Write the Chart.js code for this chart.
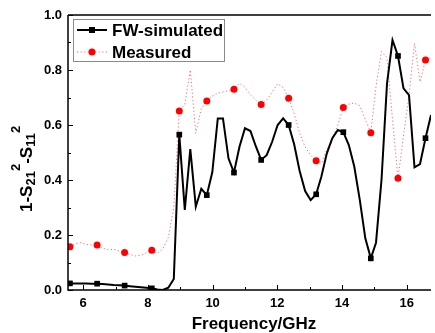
<!DOCTYPE html>
<html>
<head>
<meta charset="utf-8">
<script src="https://cdn.jsdelivr.net/npm/chart.js@4.4.0/dist/chart.umd.min.js"></script>
<style>
  html, body { margin: 0; padding: 0; background: #fff; }
  canvas { display: block; }
</style>
</head>
<body>
<canvas id="myChart" width="435" height="333"></canvas>
<script>
// frequency points (GHz)
const freq = [5.59, 5.76, 5.93, 6.10, 6.26, 6.43, 6.60, 6.77, 6.94, 7.11,
  7.28, 7.44, 7.61, 7.78, 7.95, 8.12, 8.29, 8.46, 8.63, 8.80,
  8.97, 9.14, 9.31, 9.48, 9.65, 9.82, 9.99, 10.16, 10.32, 10.49,
  10.66, 10.83, 11.00, 11.17, 11.34, 11.50, 11.67, 11.84, 12.01, 12.18,
  12.35, 12.52, 12.69, 12.86, 13.03, 13.20, 13.36, 13.53, 13.70, 13.87,
  14.04, 14.21, 14.38, 14.55, 14.72, 14.89, 15.05, 15.22, 15.39, 15.56,
  15.73, 15.90, 16.07, 16.24, 16.41, 16.58, 16.75];

const fwSim = [0.024, 0.024, 0.024, 0.024, 0.023, 0.023, 0.022, 0.020, 0.018, 0.017,
  0.016, 0.014, 0.012, 0.010, 0.008, 0.006, 0.002, 0.000, 0.008, 0.040,
  0.565, 0.291, 0.512, 0.303, 0.368, 0.345, 0.428, 0.624, 0.624, 0.479,
  0.427, 0.521, 0.588, 0.578, 0.521, 0.473, 0.490, 0.539, 0.600, 0.624,
  0.600, 0.530, 0.433, 0.360, 0.327, 0.348, 0.412, 0.497, 0.552, 0.582,
  0.574, 0.527, 0.448, 0.327, 0.188, 0.115, 0.172, 0.400, 0.750, 0.909,
  0.851, 0.733, 0.709, 0.446, 0.458, 0.552, 0.636];

const measured = [0.157, 0.168, 0.172, 0.165, 0.164, 0.164, 0.152, 0.146, 0.148, 0.142,
  0.136, 0.130, 0.124, 0.126, 0.135, 0.145, 0.133, 0.150, 0.190, 0.300,
  0.651, 0.675, 0.800, 0.570, 0.660, 0.687, 0.705, 0.715, 0.720, 0.725,
  0.730, 0.752, 0.737, 0.710, 0.690, 0.675, 0.690, 0.720, 0.750, 0.737,
  0.697, 0.643, 0.570, 0.520, 0.490, 0.470, 0.460, 0.510, 0.550, 0.600,
  0.664, 0.676, 0.680, 0.670, 0.620, 0.572, 0.740, 0.867, 0.845, 0.620,
  0.406, 0.560, 0.709, 0.897, 0.757, 0.836, 0.846];

const xTicks = [6, 8, 10, 12, 14, 16];
const xMinor = [7, 9, 11, 13, 15];
const yTicks = [0, 0.2, 0.4, 0.6, 0.8, 1.0];
const yMinor = [0.1, 0.3, 0.5, 0.7, 0.9];
const seriesNames = ['FW-simulated', 'Measured'];

const FONT = '"Liberation Sans", Arial, Helvetica, sans-serif';

// markers sit on every 5th sample
const markerEvery = 5;

const axesPlugin = {
  id: 'axesPlugin',
  afterDatasetsDraw(chart) {
    const ctx = chart.ctx;
    const a = chart.chartArea;
    const xs = chart.scales.x, ys = chart.scales.y;
    ctx.save();
    ctx.strokeStyle = '#000';
    ctx.lineWidth = 1.5;
    ctx.beginPath();
    ctx.moveTo(a.left, a.top);
    ctx.lineTo(a.right, a.top);
    ctx.moveTo(a.left, a.top);
    ctx.lineTo(a.left, a.bottom);
    ctx.lineTo(a.right, a.bottom);
    ctx.stroke();
    ctx.lineWidth = 1;
    ctx.beginPath();
    xTicks.forEach(v => {
      const p = Math.round(xs.getPixelForValue(v)) + 0.5;
      ctx.moveTo(p, a.bottom); ctx.lineTo(p, a.bottom - 5);
    });
    xMinor.forEach(v => {
      const p = Math.round(xs.getPixelForValue(v)) + 0.5;
      ctx.moveTo(p, a.bottom); ctx.lineTo(p, a.bottom - 3);
    });
    yTicks.forEach(v => {
      const p = Math.round(ys.getPixelForValue(v)) + 0.5;
      ctx.moveTo(a.left, p); ctx.lineTo(a.left + 5, p);
    });
    yMinor.forEach(v => {
      const p = Math.round(ys.getPixelForValue(v)) + 0.5;
      ctx.moveTo(a.left, p); ctx.lineTo(a.left + 3, p);
    });
    ctx.stroke();
    ctx.restore();
  },
  afterDraw(chart) {
    const ctx = chart.ctx;
    ctx.save();
    ctx.fillStyle = '#000';

    // x title
    ctx.font = 'bold 17px ' + FONT;
    ctx.textAlign = 'center';
    ctx.textBaseline = 'alphabetic';
    ctx.fillText('Frequency/GHz', 254, 329);

    // y title with sub/superscripts, rotated
    const parts = [['1-S', 0], ['21', 1], ['2', -1], ['-S', 0], ['11', 1], ['2', -1]];
    ctx.translate(0, 212);
    ctx.rotate(-Math.PI / 2);
    ctx.textAlign = 'left';
    let px = 0;
    parts.forEach(([t, k]) => {
      ctx.font = (k === 0 ? 'bold 17px ' : 'bold 13px ') + FONT;
      const base = k === 0 ? 32 : (k === 1 ? 35 : 20);
      ctx.fillText(t, px, base);
      px += ctx.measureText(t).width;
    });
    ctx.restore();

    // legend box
    ctx.save();
    ctx.fillStyle = '#fff';
    ctx.strokeStyle = '#8a8a8a';
    ctx.lineWidth = 1;
    ctx.fillRect(73.5, 19.5, 151, 42);
    ctx.strokeRect(73.5, 19.5, 151, 42);

    // row 1
    ctx.strokeStyle = '#000';
    ctx.lineWidth = 2;
    ctx.beginPath();
    ctx.moveTo(77, 30); ctx.lineTo(107, 30);
    ctx.stroke();
    ctx.fillStyle = '#000';
    ctx.fillRect(89, 27, 6, 6);
    // row 2
    ctx.strokeStyle = 'rgba(255,40,40,0.7)';
    ctx.lineWidth = 1;
    ctx.setLineDash([1.2, 2.4]);
    ctx.beginPath();
    ctx.moveTo(77, 52); ctx.lineTo(107, 52);
    ctx.stroke();
    ctx.setLineDash([]);
    ctx.fillStyle = '#ff0000';
    ctx.beginPath();
    ctx.arc(92, 52, 3.5, 0, Math.PI * 2);
    ctx.fill();

    ctx.fillStyle = '#000';
    ctx.font = 'bold 17px ' + FONT;
    ctx.textAlign = 'left';
    ctx.textBaseline = 'middle';
    ctx.fillText(seriesNames[0], 112, 31);
    ctx.fillText(seriesNames[1], 112, 53);
    ctx.restore();
  }
};

const myChart = new Chart(document.getElementById('myChart'), {
  type: 'line',
  data: {
    datasets: [{
      label: seriesNames[0],
      data: freq.map((f, i) => ({ x: f, y: fwSim[i] })),
      borderColor: '#000',
      backgroundColor: '#000',
      borderWidth: 2,
      tension: 0,
      fill: false,
      pointStyle: 'rect',
      pointRadius: c => (c.dataIndex % markerEvery === 0 ? 4 : 0),
      pointBorderWidth: 0
    }, {
      label: seriesNames[1],
      data: freq.map((f, i) => ({ x: f, y: measured[i] })),
      borderColor: 'rgba(255,40,40,0.7)',
      backgroundColor: '#ff0000',
      borderWidth: 1,
      borderDash: [1.2, 2.4],
      tension: 0,
      fill: false,
      pointStyle: 'circle',
      pointRadius: c => (c.dataIndex % markerEvery === 0 ? 3.5 : 0),
      pointBorderWidth: 0
    }]
  },
  options: {
    responsive: false,
    devicePixelRatio: 1,
    animation: false,
    layout: { padding: { top: 15, right: 0, left: 0, bottom: 0 } },
    plugins: {
      legend: { display: false },
      tooltip: { enabled: false }
    },
    scales: {
      x: {
        type: 'linear',
        min: 5.53,
        max: 16.75,
        afterBuildTicks: s => { s.ticks = xTicks.map(v => ({ value: v })); },
        afterFit: s => { s.height = 43; },
        grid: { display: false, drawTicks: false },
        border: { display: false },
        ticks: {
          autoSkip: false,
          maxRotation: 0,
          padding: 6,
          color: '#000',
          font: { family: FONT, size: 13, weight: 'bold' }
        }
      },
      y: {
        min: 0,
        max: 1,
        afterBuildTicks: s => { s.ticks = yTicks.map(v => ({ value: v })); },
        afterFit: s => { s.width = 68; },
        grid: { display: false, drawTicks: false },
        border: { display: false },
        ticks: {
          padding: 6,
          color: '#000',
          font: { family: FONT, size: 13, weight: 'bold' },
          callback: v => v.toFixed(1)
        }
      }
    }
  },
  plugins: [axesPlugin]
});
</script>
</body>
</html>
